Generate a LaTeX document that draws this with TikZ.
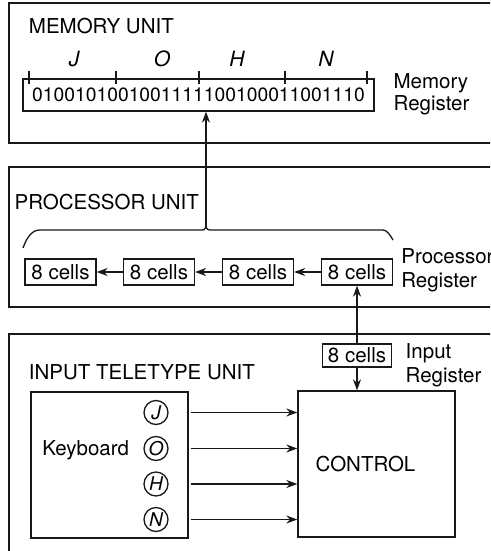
\documentclass[tikz,border=0pt]{standalone}
\usepackage{fontspec}
\setmainfont{TeX Gyre Heros}
\usetikzlibrary{arrows.meta}
\begin{document}
\begin{tikzpicture}[x=1pt,y=-1pt,
  line width=1.3pt, draw=black!90,
  every node/.style={font=\fontsize{20.5}{23}\selectfont},
  lbl/.style={anchor=base west, inner sep=0pt},
  twoline/.style={anchor=north west, inner sep=0pt, align=left},
  letter/.style={anchor=base, inner sep=0pt, font=\fontsize{21}{23}\selectfont\itshape},
  cell/.style={draw, minimum width=71pt, minimum height=26pt, inner sep=0pt},
  keycircle/.style={draw, circle, minimum size=24pt, inner sep=0pt, font=\fontsize{19}{20}\selectfont\itshape},
  blockbox/.style={draw, minimum width=157pt, minimum height=146pt, inner sep=0pt},
  arr/.style={-{Stealth[length=11pt,width=8pt]}}
]
\useasboundingbox (0,0) rectangle (490,551);
\clip (0,0) rectangle (490,551);

% ---------- MEMORY UNIT ----------
\draw (9,3) rectangle (520,143);
\node[lbl] (memlbl) at (28.3,33.3) {MEMORY UNIT};
\node[draw, minimum width=351pt, minimum height=32pt, inner sep=0pt,
      font=\fontsize{19.3}{22}\selectfont] (memreg) at (198.5,95) {0100101001001111100100011001110};
\draw (29,79) -- (367,79);
\foreach \x in {29,116,199,285,367} \draw (\x,71) -- (\x,84);
\node[letter] (lJ) at (74,66.7) {J};
\node[letter] (lO) at (162,66.7) {O};
\node[letter] (lH) at (237,66.7) {H};
\node[letter] (lN) at (326,66.7) {N};
\node[twoline, font=\fontsize{20.5}{22}\selectfont] (memname) at (393,72.7) {Memory\\Register};

% ---------- PROCESSOR UNIT ----------
\draw (9,167) rectangle (520,307);
\node[lbl] (proclbl) at (14,209.3) {PROCESSOR UNIT};
\node[cell] (c1) at (60.5,272) {8 cells};
\node[cell] (c2) at (159,272) {8 cells};
\node[cell] (c3) at (258,272) {8 cells};
\node[cell] (c4) at (357,272) {8 cells};
\draw[arr] (c4) -- (c3);
\draw[arr] (c3) -- (c2);
\draw[arr] (c2) -- (c1);
\node[twoline, font=\fontsize{20.5}{23.7}\selectfont] (procname) at (400.7,248.3) {Processor\\Register};
\coordinate (peak) at (206,227);
\draw (23,248) .. controls (27,237) and (32,230) .. (40,230) -- (202,230)
      .. controls (204,230) .. (peak) .. controls (208,230) .. (210,230)
      -- (383,230) .. controls (387,230) and (390,235) .. (393,240);
\draw[arr] (peak) -- (peak |- memreg.south);

% ---------- INPUT TELETYPE UNIT ----------
\draw (9,560) -- (9,334) -- (520,334);
\node[lbl] (inlbl) at (28.3,379.3) {INPUT TELETYPE UNIT};
\node[draw, minimum width=69pt, minimum height=23pt, inner sep=0pt] (inreg) at (357,355.5) {8 cells};
\node[twoline, font=\fontsize{20.5}{24}\selectfont] (inname) at (405,343.3) {Input\\Register};
\draw[arr] (inreg.north) -- (c4.south);

\node[blockbox] (kb) at (109.5,465) {};
\node[lbl] (kbtext) at (41.7,455) {Keyboard};
\node[keycircle] (kJ) at (156,412.5) {J};
\node[keycircle] (kO) at (156,448.5) {O};
\node[keycircle] (kH) at (156,484) {H};
\node[keycircle] (kN) at (156,519.5) {N};

\node[blockbox] (ctrl) at (376.5,464) {};
\node[lbl] (ctrltext) at (315,471.7) {CONTROL};
\draw[arr] (inreg.south) -- (inreg.south |- ctrl.north);

\foreach \k in {kJ,kO,kH,kN}
  \draw[arr] (\k -| kb.east) ++(2,0) -- (\k -| ctrl.west);
\end{tikzpicture}
\end{document}
